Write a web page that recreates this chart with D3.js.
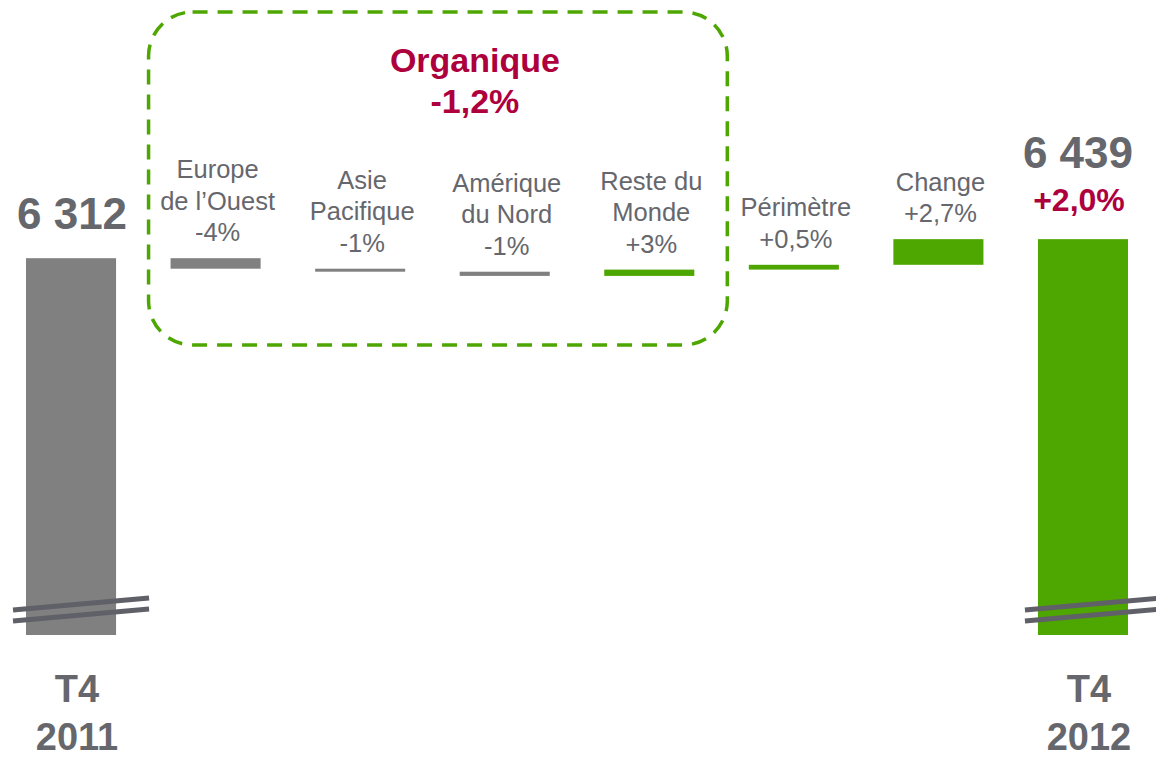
<!DOCTYPE html>
<html>
<head>
<meta charset="utf-8">
<script src="https://cdn.jsdelivr.net/npm/d3@7/dist/d3.min.js"></script>
<style>
  body { margin: 0; background: #fff; }
  text { font-family: Arial, "Liberation Sans", sans-serif; }
</style>
</head>
<body>
<div id="chart"></div>
<script>
// data
var startValue = 6312;
var endValue = 6439;
var periodLabels = [["T4", "2011"], ["T4", "2012"]];
var stepLabels = [["Europe", "de l’Ouest"], ["Asie", "Pacifique"], ["Amérique", "du Nord"], ["Reste du", "Monde"], ["Périmètre"], ["Change"]];
var stepPct = ["-4%", "-1%", "-1%", "+3%", "+0,5%", "+2,7%"];
var stepDelta = [-70, -20, -28, 42, 32, 171];
var organicLabel = ["Organique", "-1,2%"];
var totalPct = "+2,0%";
var breakValue = 3800; // axis is broken, bars start here

var W = 1156, H = 759;
var grey = "#808080", green = "#4ea600", crimson = "#ad003d", textGrey = "#66676d", breakGrey = "#606068";

var svg = d3.select("#chart").append("svg")
  .attr("width", W)
  .attr("height", H);

// build the waterfall rows
var rows = [];
rows.push({lines: periodLabels[0], from: breakValue, to: startValue, kind: "total"});
var running = startValue;
stepDelta.forEach(function(d, i) {
  rows.push({lines: stepLabels[i], pct: stepPct[i], from: running, to: running + d, kind: d < 0 ? "neg" : "pos"});
  running += d;
});
rows.push({lines: periodLabels[1], from: breakValue, to: endValue, kind: "total"});

var x = d3.scaleBand()
  .domain(d3.range(rows.length))
  .range([26, 1128])
  .paddingInner(0.377)
  .paddingOuter(0);

var y = d3.scaleLinear()
  .domain([breakValue, 6500])
  .range([635, 230]);

var bw = x.bandwidth();

function barColor(d, i) {
  if (d.kind === "total") return i === 0 ? grey : green;
  return d.kind === "neg" ? grey : green;
}

// dashed box around the organic steps
var boxLeft = x(1) - 22, boxRight = x(4) + bw + 33;
svg.append("rect")
  .attr("x", boxLeft)
  .attr("y", 12)
  .attr("width", boxRight - boxLeft)
  .attr("height", 333)
  .attr("rx", 44)
  .attr("ry", 44)
  .attr("fill", "none")
  .attr("stroke", green)
  .attr("stroke-width", 3.5)
  .attr("stroke-dasharray", "15,10");

svg.append("text")
  .attr("text-anchor", "middle")
  .attr("fill", crimson)
  .style("font-weight", "bold")
  .style("font-size", "34px")
  .selectAll("tspan")
  .data(organicLabel)
  .enter().append("tspan")
  .attr("x", (boxLeft + boxRight) / 2 + 37)
  .attr("y", function(d, i) { return 72 + i * 41; })
  .text(function(d) { return d; });

// bars
svg.selectAll(".bar")
  .data(rows)
  .enter()
  .append("rect")
  .attr("class", "bar")
  .attr("x", function(d, i) { return x(i); })
  .attr("y", function(d) { return y(Math.max(d.from, d.to)); })
  .attr("width", bw)
  .attr("height", function(d) { return Math.abs(y(d.from) - y(d.to)); })
  .attr("fill", barColor);

// step labels
var steps = rows.filter(function(d) { return d.kind !== "total"; });
svg.selectAll(".steplabel")
  .data(steps)
  .enter()
  .append("text")
  .attr("class", "steplabel")
  .attr("text-anchor", "middle")
  .attr("fill", textGrey)
  .style("font-size", "25.5px")
  .each(function(d, j) {
    var i = j + 1;
    var cx = x(i) + bw / 2 + 2;
    var lines = d.lines.concat([d.pct]);
    var base = y(Math.max(d.from, d.to)) - 17;
    d3.select(this).selectAll("tspan")
      .data(lines)
      .enter().append("tspan")
      .attr("x", cx)
      .attr("y", function(t, k) { return base - (lines.length - 1 - k) * 31.5; })
      .text(function(t) { return t; });
  });

// totals: value above, period below
var fmt = function(v) { return d3.format(",")(v).replace(",", " "); };
var firstX = x(0) + bw / 2, lastX = x(rows.length - 1) + bw / 2;

svg.append("text")
  .attr("x", firstX + 1)
  .attr("y", y(startValue) - 29)
  .attr("text-anchor", "middle")
  .attr("fill", textGrey)
  .style("font-weight", "bold")
  .style("font-size", "44px")
  .text(fmt(startValue));

svg.append("text")
  .attr("x", lastX - 5)
  .attr("y", y(endValue) - 71)
  .attr("text-anchor", "middle")
  .attr("fill", textGrey)
  .style("font-weight", "bold")
  .style("font-size", "44px")
  .text(fmt(endValue));

svg.append("text")
  .attr("x", lastX - 4)
  .attr("y", y(endValue) - 28)
  .attr("text-anchor", "middle")
  .attr("fill", crimson)
  .style("font-weight", "bold")
  .style("font-size", "32px")
  .text(totalPct);

[0, rows.length - 1].forEach(function(i) {
  svg.append("text")
    .attr("text-anchor", "middle")
    .attr("fill", textGrey)
    .style("font-weight", "bold")
    .style("font-size", "38px")
    .selectAll("tspan")
    .data(rows[i].lines)
    .enter().append("tspan")
    .attr("x", x(i) + bw / 2 + 6)
    .attr("y", function(t, k) { return 702 + k * 48; })
    .text(function(t) { return t; });
});

// broken axis marks
[0, rows.length - 1].forEach(function(i) {
  var x0 = x(i) - 13, x1 = x(i) + bw + 33, yb = y(breakValue);
  [-25, -14].forEach(function(off) {
    svg.append("line")
      .attr("x1", x0).attr("y1", yb + off)
      .attr("x2", x1).attr("y2", yb + off - 12)
      .attr("stroke", breakGrey)
      .attr("stroke-width", 5);
  });
});
</script>
</body>
</html>
